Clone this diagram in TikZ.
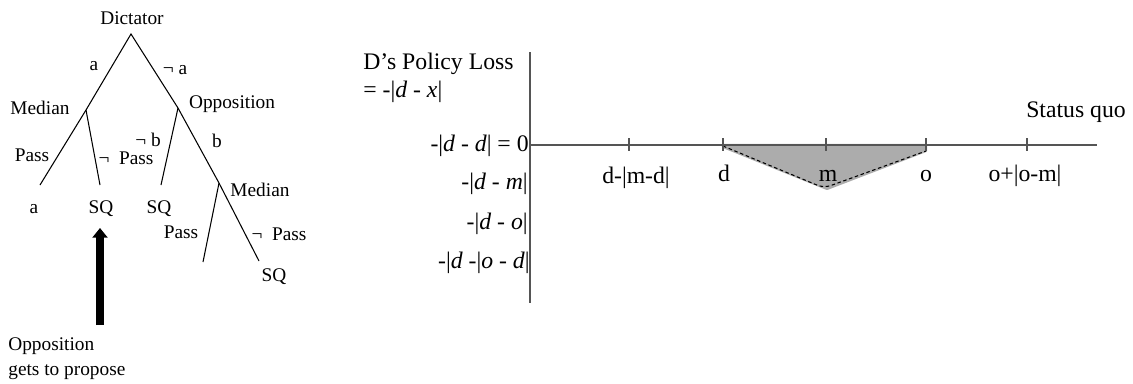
\documentclass[tikz,border=0pt]{standalone}
\usepackage{fontspec}
\setmainfont{Liberation Serif}
\usetikzlibrary{arrows.meta,positioning,calc}
\definecolor{lossgray}{RGB}{172,172,172}
\definecolor{axisgray}{RGB}{85,85,85}

\begin{document}
\begin{tikzpicture}[x=0.02cm,y=-0.02cm,
    treefont/.style={font=\fontsize{11}{14.2}\selectfont,inner sep=1pt},
    plotfont/.style={font=\fontsize{13.5}{16}\selectfont},
    branch/.style={line width=0.6pt},
    axis/.style={line width=0.9pt,draw=axisgray},
    >=Stealth
]
\useasboundingbox (0,0) rectangle (1133,383);

% game tree
\coordinate (dict) at (131,34);
\coordinate (med) at (86,110);
\coordinate (opp) at (178,108);
\coordinate (med2) at (219,183);
\coordinate (leafa) at (40,185);
\coordinate (leafsq) at (100,185);
\coordinate (leafsqb) at (161,185);
\coordinate (leafp) at (203,262);
\coordinate (leafnp) at (259,261);
\draw[branch] (leafa) -- (med) -- (dict) -- (opp) -- (med2) -- (leafnp);
\draw[branch] (med) -- (leafsq);
\draw[branch] (opp) -- (leafsqb);
\draw[branch] (med2) -- (leafp);

\node[treefont] (dictlbl) at (132,18) {Dictator};
\node[treefont] (medlbl) at (40,108) {Median};
\node[treefont] (opplbl) at (232,104) {Opposition};
\node[treefont] (med2lbl) at (260,190) {Median};
\node[treefont] (ea) at (94,66) {a};
\node[treefont] (ena) at (175,70) {¬ a};
\node[treefont] (epass) at (32,155) {Pass};
\node[treefont] (enpass) at (126,158) {¬\ \ Pass};
\node[treefont] (enb) at (148,140) {¬ b};
\node[treefont] (eb) at (217,141) {b};
\node[treefont] (epass2) at (181,232) {Pass};
\node[treefont] (enpass2) at (279,234) {¬\ \ Pass};
\node[treefont] (outa) at (34,209) {a};
\node[treefont] (outsq) at (101,209) {SQ};
\node[treefont] (outsqb) at (159,209) {SQ};
\node[treefont] (outsqc) at (274,277) {SQ};

% who proposes
\node[treefont,anchor=north west,align=left,inner sep=0pt] (proposer) at (8,337) {Opposition\\gets to propose};
\coordinate (arrowtail) at (100,325);
\coordinate (arrowtip) at (100,228);
\draw[line width=4.5pt,-{Triangle[width=8.5pt,length=5.5pt]}] (arrowtail) -- (arrowtip);

% loss plot
\coordinate (origin) at (530,145);
\coordinate (ytop) at (530,52);
\coordinate (ybot) at (530,303);
\coordinate (xend) at (1097,145);
\foreach \x/\nm in {629/dmd,723/d,826/m,926/o,1027/oom}
  \coordinate (t\nm) at (\x,145);

\fill[lossgray,draw=lossgray,line width=1.2pt,line join=round] (td) -- (to) -- ($(to)+(0,6)$) -- (827,189) -- ($(td)+(0,2)$) -- cycle;
\draw[line width=0.6pt,dash pattern=on 2pt off 1.5pt,rounded corners=4pt] ($(td)+(0,1)$) -- (824,188) -- ($(to)+(0,6)$);

\draw[axis] (ytop) -- (ybot);
\draw[axis] (origin) -- (xend);
\foreach \nm in {dmd,d,m,o,oom}
  \draw[axis] ($(t\nm)+(0,-7)$) -- ($(t\nm)+(0,6)$);

\node[plotfont,anchor=base] (ldmd) at (636,183) {d-|m-d|};
\node[plotfont,anchor=base] (ld) at (724,181) {d};
\node[plotfont,anchor=base] (lm) at (828,181) {m};
\node[plotfont,anchor=base] (lo) at (926,181) {o};
\node[plotfont,anchor=base] (loom) at (1025,181) {o+|o-m|};
\node[plotfont] (sq) at (1076,112) {Status quo};

\node[plotfont,anchor=north west,align=left,inner sep=0pt] (ylbl) at (363,53) {D’s Policy Loss\\= -|\textit{d} - \textit{x}|};
\node[plotfont,anchor=base east,inner sep=0pt] (ydd) at (529,151) {-|\textit{d} - \textit{d}| = 0};
\node[plotfont,anchor=base east,inner sep=0pt] (ydm) at (528,189) {-|\textit{d} - \textit{m}|};
\node[plotfont,anchor=base east,inner sep=0pt] (ydo) at (528,229) {-|\textit{d} - \textit{o}|};
\node[plotfont,anchor=base east,inner sep=0pt] (ydod) at (530,268) {-|\textit{d} -|\textit{o} - \textit{d}|};
\end{tikzpicture}
\end{document}
